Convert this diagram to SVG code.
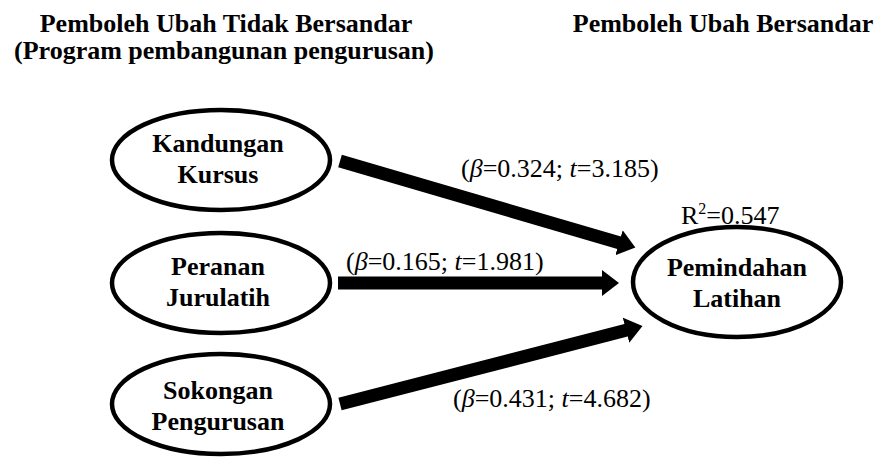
<svg xmlns="http://www.w3.org/2000/svg" width="880" height="457" viewBox="0 0 880 457">
<style>
.node{fill:#fff;stroke:#000;stroke-width:4.5}
.edge{stroke:#000;stroke-width:13;fill:none}
</style>
<defs>
<marker id="ah" markerUnits="userSpaceOnUse" markerWidth="18" markerHeight="26" refX="1" refY="13" orient="auto">
<path d="M0,0 L17,13 L0,26 Z" fill="#000"/>
</marker>
</defs>
<rect width="880" height="457" fill="#fff"/>
<g id="headings" font-family="Liberation Serif" font-weight="bold" font-size="26" text-anchor="middle" fill="#000">
<text x="226" y="32">Pemboleh Ubah Tidak Bersandar</text>
<text x="224" y="59">(Program pembangunan pengurusan)</text>
<text x="723" y="32">Pemboleh Ubah Bersandar</text>
</g>
<g id="connectors">
<line class="edge" x1="340" y1="161" x2="620" y2="243" marker-end="url(#ah)"/>
<line class="edge" x1="338" y1="283" x2="603" y2="283" marker-end="url(#ah)"/>
<line class="edge" x1="340" y1="404" x2="627" y2="330" marker-end="url(#ah)"/>
</g>
<g id="labels" font-family="Liberation Serif" font-size="26" fill="#000">
<text x="461" y="177">(<tspan font-style="italic">β</tspan>=0.324; <tspan font-style="italic">t</tspan>=3.185)</text>
<text x="346" y="270">(<tspan font-style="italic">β</tspan>=0.165; <tspan font-style="italic">t</tspan>=1.981)</text>
<text x="453" y="407">(<tspan font-style="italic">β</tspan>=0.431; <tspan font-style="italic">t</tspan>=4.682)</text>
<text x="681" y="224">R<tspan font-size="16" dy="-10">2</tspan><tspan dy="10">=0.547</tspan></text>
</g>
<g id="kandungan" font-family="Liberation Serif" font-weight="bold" font-size="26" text-anchor="middle" fill="#000">
<ellipse class="node" cx="221" cy="160" rx="109" ry="50"/>
<text x="218" y="152">Kandungan</text>
<text x="218" y="183">Kursus</text>
</g>
<g id="peranan" font-family="Liberation Serif" font-weight="bold" font-size="26" text-anchor="middle" fill="#000">
<ellipse class="node" cx="221" cy="283" rx="109" ry="50"/>
<text x="218" y="275">Peranan</text>
<text x="218" y="306">Jurulatih</text>
</g>
<g id="sokongan" font-family="Liberation Serif" font-weight="bold" font-size="26" text-anchor="middle" fill="#000">
<ellipse class="node" cx="221" cy="404" rx="109" ry="50"/>
<text x="218" y="399">Sokongan</text>
<text x="218" y="430">Pengurusan</text>
</g>
<g id="pemindahan" font-family="Liberation Serif" font-weight="bold" font-size="26" text-anchor="middle" fill="#000">
<ellipse class="node" cx="737" cy="282" rx="104" ry="55"/>
<text x="737" y="276">Pemindahan</text>
<text x="737" y="307">Latihan</text>
</g>
</svg>
